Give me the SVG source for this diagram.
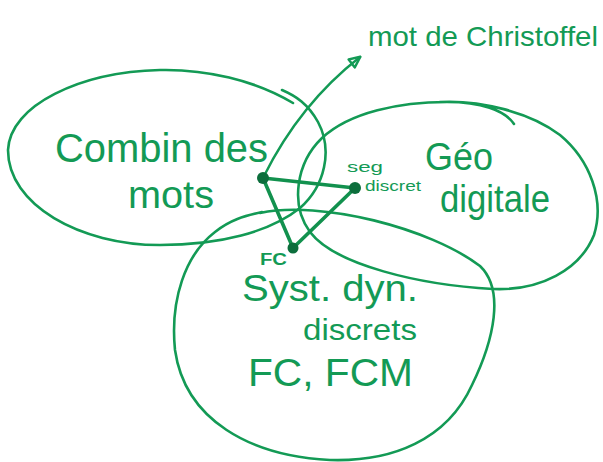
<svg xmlns="http://www.w3.org/2000/svg" width="603" height="462" viewBox="0 0 603 462">
<defs>
<style>
.set{fill:none;stroke:#139a55;stroke-width:2.6;stroke-linecap:round;stroke-linejoin:round}
.edge{fill:none;stroke:#12914e;stroke-width:3.6;stroke-linecap:round}
.dot{fill:#0c6e3c}
.t{fill:#139a55;font-family:"Liberation Sans","DejaVu Sans",sans-serif}
</style>
<marker id="ah" viewBox="0 0 14 14" refX="12" refY="7" markerWidth="14" markerHeight="14" markerUnits="userSpaceOnUse" orient="auto">
<path d="M1.5,2 L12.5,7 L1.5,12 Z" fill="none" stroke="#139a55" stroke-width="2.4" stroke-linejoin="round"/>
</marker>
</defs>
<rect width="603" height="462" fill="#ffffff"/>

<g id="combin">
<path class="set" d="M293,103 C255,80 205,69 160,70 C80,72 10,105 8,150 C8,205 80,245 160,245 C220,245 270,232 300,208 C325,186 333,150 318,122 C308,104 296,96 282,90"/>
<text class="t" x="55" y="162" font-size="40" textLength="213" lengthAdjust="spacingAndGlyphs">Combin des</text>
<text class="t" x="128" y="208" font-size="38" textLength="86" lengthAdjust="spacingAndGlyphs">mots</text>
</g>

<g id="geo">
<path class="set" d="M514,124 C505,110 480,102 447,102 C400,102 350,112 322,138 C296,163 290,205 310,232 C335,265 420,285 493,289 C540,291 580,270 594,235 C605,200 590,160 560,135 C530,112 480,100 440,102"/>
<text class="t" x="425" y="170" font-size="38" textLength="68" lengthAdjust="spacingAndGlyphs">Géo</text>
<text class="t" x="440" y="212" font-size="38" textLength="110" lengthAdjust="spacingAndGlyphs">digitale</text>
</g>

<g id="sysdyn">
<path class="set" d="M260,213 C320,200 430,228 480,266 C505,290 494,340 472,385 C447,440 392,462 330,460 C250,456 185,420 175,350 C170,300 185,255 215,232 C230,220 244,216 262,212"/>
<text class="t" x="242" y="301" font-size="36" textLength="176" lengthAdjust="spacingAndGlyphs">Syst. dyn.</text>
<text class="t" x="303" y="340" font-size="30" textLength="114" lengthAdjust="spacingAndGlyphs">discrets</text>
<text class="t" x="248" y="386" font-size="38" textLength="165" lengthAdjust="spacingAndGlyphs">FC, FCM</text>
</g>

<g id="christoffel">
<text class="t" x="368" y="46" font-size="28" textLength="230" lengthAdjust="spacingAndGlyphs">mot de Christoffel</text>
</g>

<g id="connectors">
<path d="M264,176 C282,140 310,96 360,57" fill="none" stroke="#139a55" stroke-width="2.4" stroke-linecap="round" marker-end="url(#ah)"/>
<line class="edge" x1="263" y1="178" x2="355" y2="188"/>
<line class="edge" x1="263" y1="178" x2="293" y2="248"/>
<line class="edge" x1="293" y1="248" x2="355" y2="188"/>
</g>

<g id="node-mots">
<circle class="dot" cx="263" cy="178" r="6"/>
</g>
<g id="node-seg">
<circle class="dot" cx="355" cy="188" r="6"/>
<text class="t" x="347" y="172" font-size="15" textLength="36" lengthAdjust="spacingAndGlyphs">seg</text>
<text class="t" x="365" y="191" font-size="15" textLength="56" lengthAdjust="spacingAndGlyphs">discret</text>
</g>
<g id="node-fc">
<circle class="dot" cx="293" cy="248" r="5.5"/>
<text class="t" x="260" y="265" font-size="16" font-weight="bold" textLength="27" lengthAdjust="spacingAndGlyphs">FC</text>
</g>
</svg>
